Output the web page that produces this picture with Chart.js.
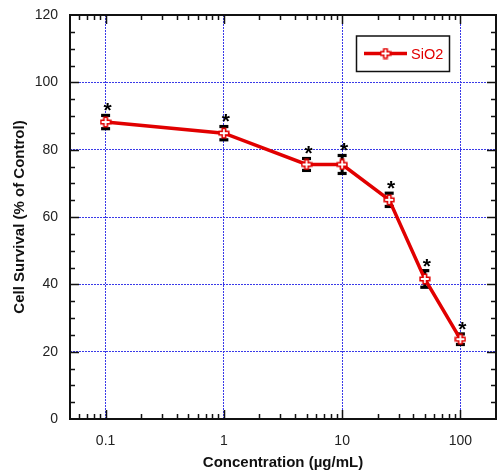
<!DOCTYPE html>
<html><head><meta charset="utf-8">
<script src="https://cdn.jsdelivr.net/npm/chart.js@4/dist/chart.umd.min.js"></script>
<style>html,body{margin:0;padding:0;background:#fff}#wrap{width:498px;height:472px}</style>
</head><body><div id="wrap"><canvas id="c" width="498" height="472"></canvas></div>
<script>
const concentrations = [0.1, 1, 5, 10, 25, 50, 100];
const survival = [88.2, 84.9, 75.6, 75.6, 65.1, 41.6, 23.7];
const errors = [2.0, 2.0, 1.8, 2.7, 2.0, 2.5, 1.6];
const xTickValues = [0.1, 1, 10, 100];
const xTickLabels = ['0.1', '1', '10', '100'];
const yTickValues = [0, 20, 40, 60, 80, 100, 120];
const seriesName = 'SiO2';
const xTitle = 'Concentration (\u00b5g/mL)';
const yTitle = 'Cell Survival (% of Control)';

const RED = '#e10000';
const GRID = '#3a3ae8';
const FONT = '"Liberation Sans", Arial, sans-serif';

function makeMarker() {
  const c = document.createElement('canvas');
  c.width = 12; c.height = 12;
  const g = c.getContext('2d');
  const m = 6, a = 4.8, w = 1.7;
  g.beginPath();
  g.moveTo(m - w, m - a); g.lineTo(m + w, m - a); g.lineTo(m + w, m - w);
  g.lineTo(m + a, m - w); g.lineTo(m + a, m + w); g.lineTo(m + w, m + w);
  g.lineTo(m + w, m + a); g.lineTo(m - w, m + a); g.lineTo(m - w, m + w);
  g.lineTo(m - a, m + w); g.lineTo(m - a, m - w); g.lineTo(m - w, m - w);
  g.closePath();
  g.fillStyle = '#fff'; g.fill();
  g.strokeStyle = RED; g.lineWidth = 1.6; g.stroke();
  return c;
}
const marker = makeMarker();

const deco = {
  id: 'deco',
  beforeDatasetsDraw(chart) {
    const ctx = chart.ctx, xs = chart.scales.x, ys = chart.scales.y;
    ctx.save();
    ctx.fillStyle = '#000'; ctx.strokeStyle = '#000';
    concentrations.forEach((c, i) => {
      const x = xs.getPixelForValue(c);
      const yt = ys.getPixelForValue(survival[i] + errors[i]);
      const yb = ys.getPixelForValue(survival[i] - errors[i]);
      ctx.lineWidth = 3;
      ctx.beginPath(); ctx.moveTo(x, yt); ctx.lineTo(x, yb); ctx.stroke();
      ctx.fillRect(x - 4.5, yt - 1.5, 9, 3.2);
      ctx.fillRect(x - 4.5, yb - 1.7, 9, 3.2);
      ctx.font = 'bold 21px ' + FONT;
      ctx.textAlign = 'center'; ctx.textBaseline = 'alphabetic';
      ctx.fillText('*', x + 2, yt + 2);
    });
    ctx.restore();
  },
  afterDraw(chart) {
    const ctx = chart.ctx, xs = chart.scales.x, ys = chart.scales.y;
    const a = chart.chartArea;
    ctx.save();
    ctx.strokeStyle = '#111'; ctx.lineWidth = 1.5;
    const minorX = [];
    [0.01, 0.1, 1, 10, 100].forEach(d => {
      for (let k = 2; k <= 9; k++) {
        const v = k * d;
        if (v > 0.0505 && v < 199) minorX.push(v);
      }
    });
    ctx.beginPath();
    minorX.forEach(v => {
      const x = Math.round(xs.getPixelForValue(v)) + 0.5;
      ctx.moveTo(x, a.bottom); ctx.lineTo(x, a.bottom - 5);
      ctx.moveTo(x, a.top); ctx.lineTo(x, a.top + 5);
    });
    xTickValues.forEach(v => {
      const x = Math.round(xs.getPixelForValue(v)) + 0.5;
      ctx.moveTo(x, a.bottom); ctx.lineTo(x, a.bottom - 9);
      ctx.moveTo(x, a.top); ctx.lineTo(x, a.top + 9);
    });
    for (let v = 5; v < 120; v += 5) {
      const y = Math.round(ys.getPixelForValue(v)) + 0.5;
      const len = (v % 20 === 0) ? 9 : 5;
      ctx.moveTo(a.left, y); ctx.lineTo(a.left + len, y);
      ctx.moveTo(a.right, y); ctx.lineTo(a.right - len, y);
    }
    ctx.stroke();
    ctx.lineWidth = 2; ctx.strokeStyle = '#111';
    ctx.strokeRect(a.left, a.top, a.right - a.left, a.bottom - a.top);
    ctx.lineWidth = 1.5; ctx.strokeStyle = '#111';
    ctx.fillStyle = '#fff';
    ctx.fillRect(356.5, 36, 93, 35.5);
    ctx.strokeRect(356.5, 36, 93, 35.5);
    ctx.strokeStyle = RED; ctx.lineWidth = 3.5;
    ctx.beginPath(); ctx.moveTo(364, 53.5); ctx.lineTo(407, 53.5); ctx.stroke();
    ctx.drawImage(marker, 385.5 - 6, 53.5 - 6);
    ctx.fillStyle = RED; ctx.font = '14.5px ' + FONT;
    ctx.textAlign = 'left'; ctx.textBaseline = 'middle';
    ctx.fillText(seriesName, 411, 54.5);
    ctx.restore();
  }
};

new Chart(document.getElementById('c'), {
  type: 'line',
  data: {
    datasets: [{
      label: seriesName,
      data: concentrations.map((c, i) => ({x: c, y: survival[i]})),
      borderColor: RED,
      backgroundColor: RED,
      borderWidth: 3.5,
      tension: 0,
      pointStyle: marker,
      pointRadius: 6,
      pointHoverRadius: 6,
      clip: false
    }]
  },
  options: {
    responsive: false,
    animation: false,
    events: [],
    layout: {autoPadding: false, padding: {top: 15, right: 2, left: 0, bottom: 0}},
    plugins: {legend: {display: false}, tooltip: {enabled: false}},
    scales: {
      x: {
        type: 'logarithmic',
        min: 0.05, max: 200,
        afterBuildTicks: s => { s.ticks = xTickValues.map(v => ({value: v})); },
        afterFit: s => { s.height = 53; s.paddingLeft = 0; s.paddingRight = 0; },
        ticks: {
          callback: (v) => { const i = xTickValues.indexOf(v); return i >= 0 ? xTickLabels[i] : ''; },
          autoSkip: false, maxRotation: 0, padding: 14,
          color: '#222', font: {family: FONT, size: 14}
        },
        grid: {color: GRID, lineWidth: 1, drawTicks: false, borderDash: [2, 1]},
        border: {display: false, dash: [2, 1]},
        title: {display: true, text: xTitle, color: '#111', font: {family: FONT, size: 15, weight: 'bold'}, padding: {top: 0, bottom: 0}}
      },
      y: {
        type: 'linear',
        min: 0, max: 120,
        afterBuildTicks: s => { s.ticks = yTickValues.map(v => ({value: v})); },
        afterFit: s => { s.width = 70; s.paddingTop = 0; s.paddingBottom = 0; },
        ticks: {padding: 12, color: '#222', font: {family: FONT, size: 14}},
        grid: {color: GRID, lineWidth: 1, drawTicks: false, borderDash: [2, 1]},
        border: {display: false, dash: [2, 1]},
        title: {display: true, text: yTitle, color: '#111', font: {family: FONT, size: 15, weight: 'bold'}, padding: {top: 11, bottom: 0}}
      }
    }
  },
  plugins: [deco]
});
</script></body></html>
